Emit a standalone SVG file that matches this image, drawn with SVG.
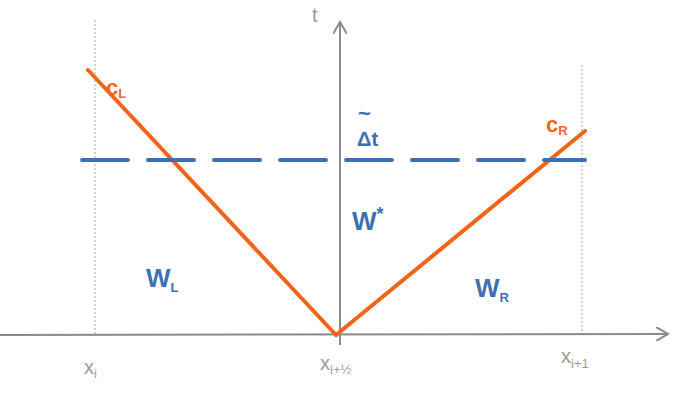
<svg xmlns="http://www.w3.org/2000/svg" width="675" height="403" viewBox="0 0 675 403">
<defs>
<style>
.axis{stroke:#8a8a8a;stroke-width:2;fill:none}
.guide{stroke:#c4c4c4;stroke-width:1.5;stroke-dasharray:2 2;fill:none}
.wave{stroke:#f26419;stroke-width:4;stroke-linecap:round;fill:none}
.dash{stroke:#3d6fb4;stroke-width:4;stroke-dasharray:46 20;stroke-linecap:round;fill:none}
.lo{font-family:"Liberation Sans",Arial,sans-serif;font-size:22px;font-weight:bold;fill:#f26419}
.lb{font-family:"Liberation Sans",Arial,sans-serif;font-size:26px;font-weight:bold;fill:#3d6fb4}
.lg{font-family:"Liberation Sans",Arial,sans-serif;font-size:20px;fill:#9a9a9a}
.sub{font-size:13px}
</style>
<marker id="ah" markerWidth="14" markerHeight="14" refX="12" refY="7" orient="auto" markerUnits="userSpaceOnUse">
<path d="M0,0 L12,7 L0,14" fill="none" stroke="#8a8a8a" stroke-width="2"/>
</marker>
</defs>
<rect width="675" height="403" fill="#ffffff"/>
<g id="guides">
<line class="guide" x1="95" y1="20" x2="95" y2="335"/>
<line class="guide" x1="582" y1="65" x2="582" y2="335"/>
</g>
<g id="axes">
<line class="axis" x1="0" y1="335" x2="668" y2="334" marker-end="url(#ah)"/>
<line class="axis" x1="340" y1="345" x2="340" y2="22" marker-end="url(#ah)"/>
<text class="lg" x="312" y="22">t</text>
</g>
<g id="connectors">
<line class="wave" x1="88" y1="70" x2="336" y2="335"/>
<line class="wave" x1="336" y1="335" x2="585" y2="131"/>
<line class="dash" x1="82" y1="160" x2="585" y2="160"/>
</g>
<g id="labels">
<text class="lo" x="106" y="95">c<tspan class="sub" dy="3">L</tspan></text>
<text class="lo" x="546" y="132">c<tspan class="sub" dy="3">R</tspan></text>
<text class="lb" x="357" y="146" style="font-size:20px">Δt</text>
<text class="lb" x="358" y="121" style="font-size:22px">~</text>
<text class="lb" x="352" y="230">W<tspan dy="-10" style="font-size:18px">*</tspan></text>
<text class="lb" x="146" y="287">W<tspan class="sub" dy="5">L</tspan></text>
<text class="lb" x="475" y="297">W<tspan class="sub" dy="5">R</tspan></text>
<text class="lg" x="84" y="374">x<tspan class="sub" dy="4">i</tspan></text>
<text class="lg" x="320" y="370">x<tspan class="sub" dy="4">i+½</tspan></text>
<text class="lg" x="561" y="363">x<tspan class="sub" dy="5">i+1</tspan></text>
</g>
</svg>
